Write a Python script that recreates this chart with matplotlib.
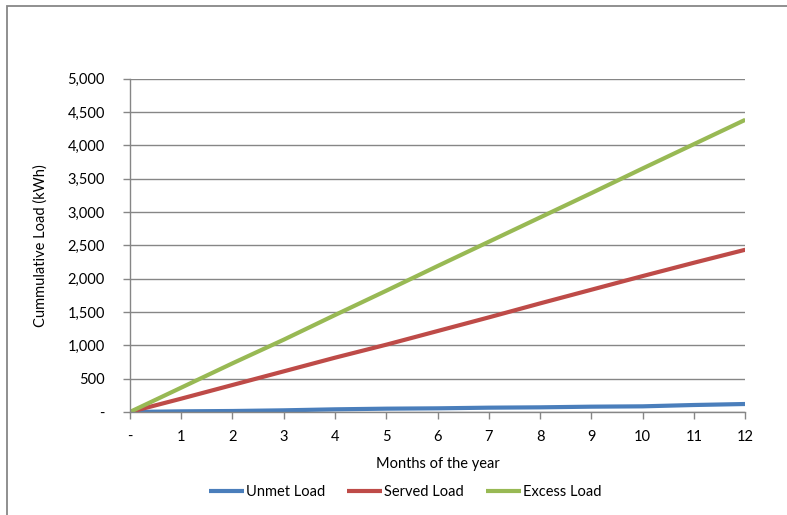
import matplotlib
matplotlib.use("Agg")
import matplotlib.pyplot as plt
from matplotlib.patches import Rectangle
from matplotlib.ticker import FuncFormatter, MultipleLocator

# cumulative load by month (kWh)
months = [0, 1, 2, 3, 4, 5, 6, 7, 8, 9, 10, 11, 12]
unmet_load = [0, 10, 15, 25, 40, 50, 55, 65, 70, 80, 85, 105, 120]
served_load = [0, 200, 405, 610, 815, 1010, 1215, 1420, 1630, 1835, 2040, 2240, 2435]
excess_load = [0, 365, 730, 1085, 1455, 1820, 2190, 2555, 2920, 3285, 3655, 4020, 4385]

plt.rcParams['font.family'] = ['Lato', 'DejaVu Sans']

fig = plt.figure(figsize=(7.87, 5.15), dpi=100)
ax = fig.add_axes([0.165, 0.2, 0.782, 0.647])

ax.plot(months, unmet_load, color='#4a7ebb', lw=3, label='Unmet Load', solid_capstyle='butt')
ax.plot(months, served_load, color='#be4b48', lw=3, label='Served Load', solid_capstyle='butt')
ax.plot(months, excess_load, color='#98b954', lw=3, label='Excess Load', solid_capstyle='butt')

ax.set_xlim(0, 12)
ax.set_ylim(0, 5000)
ax.xaxis.set_major_locator(MultipleLocator(1))
ax.yaxis.set_major_locator(MultipleLocator(500))
dash_zero = lambda v, pos: '-' if v == 0 else f'{v:,.0f}'
ax.xaxis.set_major_formatter(FuncFormatter(dash_zero))
ax.yaxis.set_major_formatter(FuncFormatter(dash_zero))

ax.grid(axis='y', color='#868686', lw=1)
ax.set_axisbelow(True)
for s in ['top', 'right']:
    ax.spines[s].set_visible(False)
for s in ['left', 'bottom']:
    ax.spines[s].set_color('#868686')
    ax.spines[s].set_linewidth(1)
ax.tick_params(axis='both', colors='#868686', labelcolor='black', labelsize=10.5, length=5, width=1)
ax.tick_params(axis='x', pad=8)
ax.tick_params(axis='y', pad=13)

ax.set_xlabel('Months of the year', fontsize=10.5, labelpad=9)
ax.set_ylabel('Cummulative Load (kWh)', fontsize=10.5, labelpad=14)

fig.legend(loc='center', bbox_to_anchor=(0.515, 0.045), ncol=3, frameon=False,
           fontsize=10.5, handlelength=2.4, handletextpad=0.15, columnspacing=1.5)

# outer chart frame
fig.patches.append(Rectangle((0.009, -0.5), 2, 1.488, transform=fig.transFigure,
                             fill=False, edgecolor='#878787', lw=1.3))

fig.savefig('out.png', dpi=100)
